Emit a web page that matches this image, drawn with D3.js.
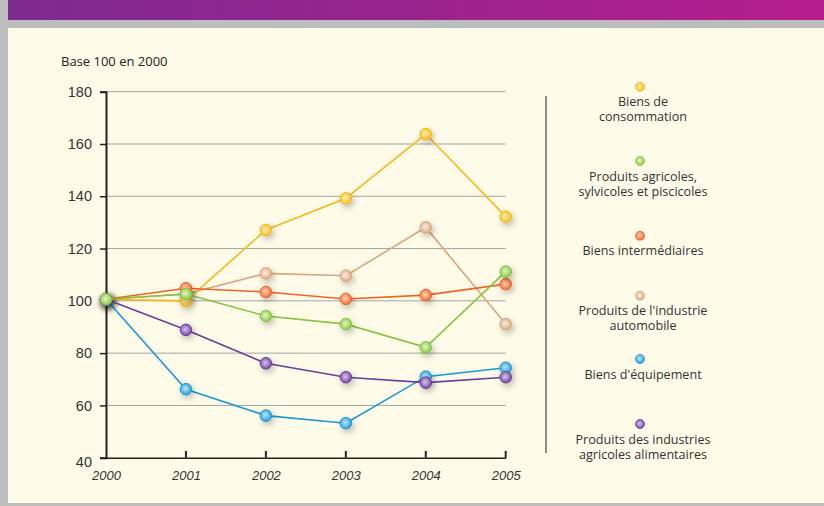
<!DOCTYPE html>
<html>
<head>
<meta charset="utf-8">
<script src="https://cdn.jsdelivr.net/npm/d3@7"></script>
<style>
  body { margin: 0; background: #bdbdbd; }
  svg { display: block; font-family: "Open Sans", "Noto Sans", sans-serif; }
</style>
</head>
<body>
<svg id="chart" width="824" height="506"></svg>
<script>
const years = [2000, 2001, 2002, 2003, 2004, 2005];
const yTicks = [40, 60, 80, 100, 120, 140, 160, 180];

const consommation = [100.6, 100, 127.1, 139.2, 163.8, 132.2];
const agricoles = [100.6, 102.6, 94.2, 91.1, 82.2, 111.2];
const intermediaires = [100.6, 104.8, 103.4, 100.7, 102.2, 106.4];
const automobile = [100.6, 102.6, 110.5, 109.6, 128.1, 91.1];
const equipement = [100.6, 66.2, 56.1, 53.2, 71, 74.4];
const alimentaires = [100.6, 88.9, 76.1, 70.8, 68.7, 70.8];

const series = [
  { lines: ["Biens de", "consommation"], values: consommation, color: "#f7b818", light: "#fff0b0" },
  { lines: ["Produits agricoles,", "sylvicoles et piscicoles"], values: agricoles, color: "#86c440", light: "#e2f5c4" },
  { lines: ["Biens intermédiaires"], values: intermediaires, color: "#ef6428", light: "#ffd3b8" },
  { lines: ["Produits de l'industrie", "automobile"], values: automobile, color: "#d9a57c", light: "#fbeee2" },
  { lines: ["Biens d'équipement"], values: equipement, color: "#1b98d8", light: "#bfe8fb" },
  { lines: ["Produits des industries", "agricoles alimentaires"], values: alimentaires, color: "#6c3d9c", light: "#d7c6ec" }
];
// draw order: back to front
const drawOrder = [3, 0, 2, 4, 5, 1];

const svg = d3.select("#chart");

// page frame
const defs = svg.append("defs");
const topGrad = defs.append("linearGradient").attr("id", "topbar");
topGrad.append("stop").attr("offset", "0%").attr("stop-color", "#7e2a8f");
topGrad.append("stop").attr("offset", "100%").attr("stop-color", "#b61d8e");

svg.append("rect").attr("width", 824).attr("height", 506).attr("fill", "#bdbdbd");
svg.append("rect").attr("x", 8).attr("width", 816).attr("height", 20).attr("fill", "url(#topbar)");
svg.append("rect").attr("x", 8).attr("y", 28).attr("width", 816).attr("height", 475).attr("fill", "#fefce9");

const shadow = defs.append("filter").attr("id", "shadow")
  .attr("x", "-150%").attr("y", "-150%").attr("width", "400%").attr("height", "400%");
shadow.append("feGaussianBlur").attr("in", "SourceAlpha").attr("stdDeviation", 3.5).attr("result", "b");
shadow.append("feOffset").attr("in", "b").attr("dx", 2).attr("dy", 3).attr("result", "o");
shadow.append("feComponentTransfer").attr("in", "o").attr("result", "s")
  .append("feFuncA").attr("type", "linear").attr("slope", 0.28);
const merge = shadow.append("feMerge");
merge.append("feMergeNode").attr("in", "s");
merge.append("feMergeNode").attr("in", "SourceGraphic");

series.forEach((s, i) => {
  const g = defs.append("radialGradient").attr("id", "dot" + i)
    .attr("cx", "45%").attr("cy", "45%").attr("r", "60%");
  g.append("stop").attr("offset", "0%").attr("stop-color", s.light);
  g.append("stop").attr("offset", "100%").attr("stop-color", s.color);
});

const x = d3.scalePoint().domain(years).range([106, 505.7]);
const y = d3.scaleLinear().domain([40, 180]).range([457.7, 91.7]);

// grid
svg.append("g").selectAll("line")
  .data(yTicks.filter(d => d > 40))
  .join("line")
  .attr("x1", 106).attr("x2", 505.7)
  .attr("y1", d => y(d)).attr("y2", d => y(d))
  .attr("stroke", "#a3a3a3").attr("stroke-width", 1);

// y axis
const yAxis = svg.append("g").attr("transform", "translate(106,0)")
  .call(d3.axisLeft(y).tickValues(yTicks).tickSize(6).tickPadding(8));
yAxis.select(".domain").attr("stroke", "#222").attr("stroke-width", 2);
yAxis.selectAll(".tick line").attr("stroke", "#222").attr("stroke-width", 1.5);
yAxis.selectAll(".tick text").attr("font-size", 14.5).attr("fill", "#333")
  .attr("dy", d => d === 40 ? "0.6em" : "0.32em");

// x axis
const xAxis = svg.append("g").attr("transform", "translate(0,457.7)")
  .call(d3.axisBottom(x).tickSize(0).tickPadding(13).tickFormat(d3.format("d")));
xAxis.select(".domain").attr("stroke", "#222").attr("stroke-width", 1.5);
xAxis.selectAll(".tick text").attr("font-size", 13).attr("fill", "#333").attr("font-style", "italic");
svg.append("g").selectAll("line")
  .data(years.slice(1))
  .join("line")
  .attr("x1", d => x(d)).attr("x2", d => x(d))
  .attr("y1", 451).attr("y2", 457.7)
  .attr("stroke", "#222").attr("stroke-width", 2);

svg.append("text").attr("x", 61).attr("y", 66)
  .attr("font-size", 13).attr("fill", "#222").text("Base 100 en 2000");

// lines and points
const line = d3.line().x((d, i) => x(years[i])).y(d => y(d));
drawOrder.forEach(i => {
  const s = series[i];
  const g = svg.append("g");
  g.append("path").datum(s.values)
    .attr("d", line).attr("fill", "none")
    .attr("stroke", s.color).attr("stroke-width", 1.6);
  g.selectAll("circle").data(s.values).join("circle")
    .attr("cx", (d, j) => x(years[j])).attr("cy", d => y(d))
    .attr("r", 5.8)
    .attr("fill", "url(#dot" + i + ")")
    .attr("stroke", s.color).attr("stroke-width", 1)
    .attr("filter", "url(#shadow)");
});

// legend
svg.append("line").attr("x1", 546).attr("x2", 546).attr("y1", 96).attr("y2", 453)
  .attr("stroke", "#8e8e86").attr("stroke-width", 2);

const legendY = [86.7, 161, 235.7, 295.7, 359, 424];
series.forEach((s, i) => {
  const g = svg.append("g");
  g.append("circle").attr("cx", 640).attr("cy", legendY[i]).attr("r", 4.5)
    .attr("fill", "url(#dot" + i + ")").attr("stroke", s.color).attr("stroke-width", 0.8);
  g.append("text").attr("text-anchor", "middle").attr("font-size", 12.6).attr("fill", "#333")
    .selectAll("tspan").data(s.lines).join("tspan")
    .attr("x", 643).attr("y", (d, j) => legendY[i] + 19.5 + j * 15)
    .text(d => d);
});
</script>
</body>
</html>
